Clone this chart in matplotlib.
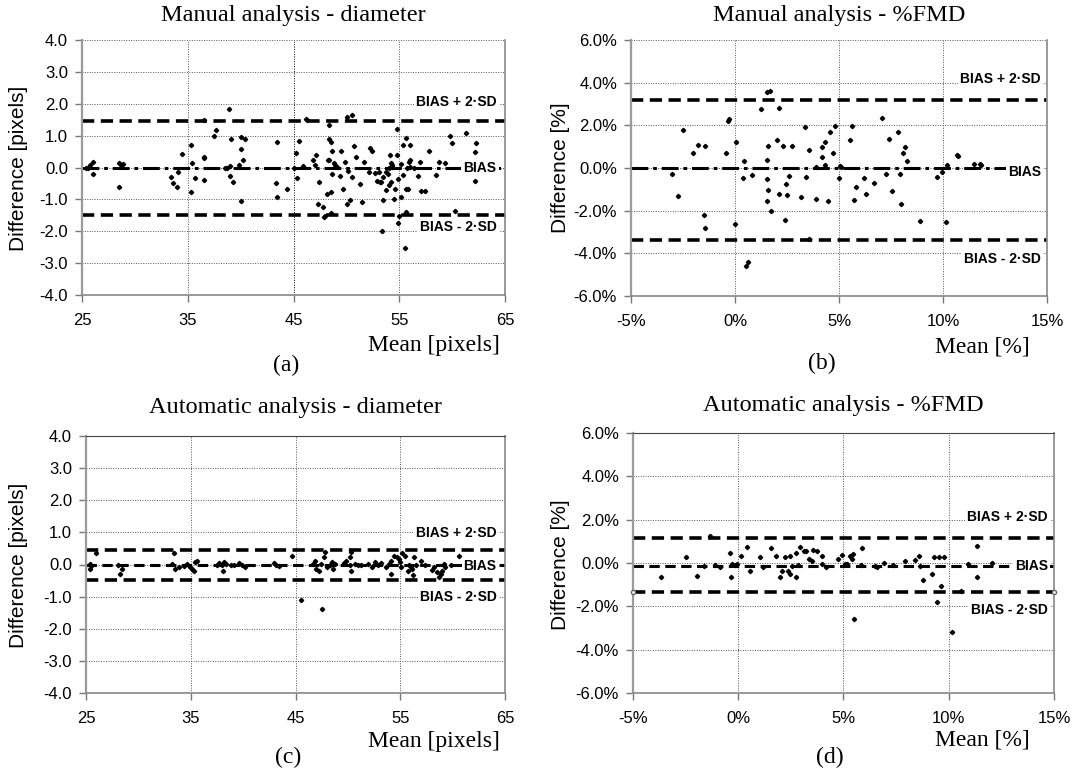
import numpy as np
import matplotlib
matplotlib.use("Agg")
import matplotlib.pyplot as plt
from matplotlib.ticker import FormatStrFormatter, MultipleLocator

plt.rcParams['axes.unicode_minus'] = False
plt.rcParams['font.family'] = ['Liberation Sans', 'DejaVu Sans']

# ---- data ----
# (a) manual analysis - diameter
a_mean = [25.4, 25.8, 26.0, 26.0, 25.6, 28.5, 28.7, 28.5, 28.9, 33.4,
          33.6, 34.0, 34.1, 34.5, 35.3, 35.4, 35.3, 35.7, 36.5, 36.5,
          36.5, 36.5, 37.5, 37.7, 38.9, 39.1, 39.0, 38.7, 38.5, 39.0,
          39.3, 40.0, 40.4, 40.0, 40.2, 40.0, 39.8, 43.4, 43.3, 43.4,
          44.4, 45.2, 45.3, 45.5, 45.0, 46.2, 46.3, 45.9, 46.8, 47.1,
          47.0, 47.4, 47.3, 47.8, 47.9, 48.0, 48.4, 48.4, 48.5, 48.3,
          48.4, 48.6, 48.6, 48.2, 48.5, 48.5, 48.8, 48.9, 49.1, 49.4,
          49.5, 49.7, 49.9, 50.1, 50.1, 50.5, 50.2, 50.3, 50.5, 50.7,
          50.9, 51.3, 51.5, 51.7, 52.2, 52.4, 52.1, 52.7, 52.9, 53.2,
          53.3, 53.1, 53.4, 53.5, 53.7, 53.5, 53.7, 54.0, 53.9, 54.0,
          54.2, 54.1, 54.2, 54.3, 54.3, 54.5, 54.6, 54.8, 54.8, 54.9,
          54.9, 55.0, 55.2, 55.2, 55.4, 55.4, 55.5, 55.6, 55.6, 55.6,
          55.7, 55.9, 55.8, 56.0, 56.0, 56.0, 56.4, 56.8, 57.0, 57.1,
          57.4, 57.8, 58.5, 58.8, 59.3, 59.8, 60.0, 60.3, 61.3, 62.3,
          62.2, 62.2]
a_diff = [-0.03, 0.07, 0.18, -0.21, 0.00, 0.13, 0.07, -0.62, 0.10, -0.29,
          -0.50, -0.61, -0.14, 0.41, 0.71, 0.15, -0.77, -0.32, 0.34, 0.29,
          -0.38, 1.49, 0.99, 1.18, 1.85, 0.88, 0.04, 0.00, -0.03, -0.26,
          -0.45, 0.95, 0.88, 0.57, 0.25, -1.05, 0.08, 0.79, -0.50, -0.93,
          -0.67, 0.47, -0.32, 0.84, 0.00, 1.52, 1.50, 0.04, 0.25, 0.39,
          0.07, -0.45, -1.16, -1.24, -1.54, -1.53, 1.34, 0.89, 0.81, 0.23,
          0.25, 0.53, -0.21, -0.82, -0.77, -1.43, 0.13, 0.07, 0.02, -0.27,
          0.52, -0.66, 0.18, -1.16, 1.58, 1.64, -0.12, -1.01, -0.29, 0.68,
          0.34, -0.53, -1.08, 0.18, 0.60, 0.53, -0.14, -0.17, -0.42, -0.45,
          -0.45, -0.14, -1.98, -1.03, -0.72, -0.29, -0.14, -0.03, -0.21, -0.54,
          -0.45, 0.39, 0.15, 0.07, 0.02, -0.98, -0.69, 1.21, 0.39, -0.35,
          -1.75, -1.51, -0.93, 0.11, 0.71, -0.24, -2.54, 0.94, -0.69, -1.40,
          0.00, 0.18, -0.69, 0.71, 0.02, 0.23, 0.00, -0.27, 0.18, -0.75,
          -0.75, 0.53, -0.22, 0.18, 0.15, 0.99, 0.76, -1.35, 1.09, 0.78,
          0.49, -0.42]

# (b) manual analysis - %FMD (values in %)
b_mean = [-3.03, -2.76, -2.50, -2.02, -1.78, -1.44, -1.51, -1.44, -0.45, -0.34,
          -0.27, 0.00, 0.06, 0.38, 0.45, 0.51, 0.63, 0.83, 1.23, 1.54,
          1.54, 1.59, 1.55, 1.61, 1.54, 1.70, 1.75, 2.00, 2.10, 2.13,
          2.31, 2.39, 2.45, 2.50, 2.61, 2.76, 3.19, 3.37, 3.40, 3.56,
          3.56, 3.91, 3.91, 4.17, 4.17, 4.33, 4.33, 4.47, 4.58, 4.70,
          4.81, 4.98, 5.03, 5.10, 5.51, 5.63, 5.74, 5.82, 6.22, 6.28,
          6.70, 7.07, 7.28, 7.39, 7.56, 7.82, 7.92, 8.00, 8.06, 8.19,
          8.27, 8.91, 9.71, 9.95, 10.16, 10.19, 10.67, 10.72, 11.47, 11.79,
          11.83]
b_diff = [-0.27, -1.32, 1.78, 0.68, 1.07, 1.04, -2.19, -2.82, 0.69, 2.19,
          2.30, -2.61, 1.20, -0.49, 0.33, -4.60, -4.39, -0.33, 2.77, 0.38,
          -0.50, -1.01, -1.56, 1.04, 3.54, 3.61, -2.03, 1.32, 2.82, -1.24,
          1.04, -2.46, -0.74, -1.28, -0.38, 1.01, -1.34, 1.91, -0.41, 0.85,
          -3.32, -1.45, 0.05, 0.99, 0.52, 1.20, 0.14, -1.56, 1.67, 0.71,
          1.95, -0.46, 0.09, 0.05, 1.31, 1.98, -1.48, -0.87, -0.49, -1.21,
          -0.69, 2.35, -0.27, 1.35, -1.06, 1.70, -0.30, -1.67, 0.68, 0.99,
          0.33, -2.50, -0.41, -0.19, -2.54, 0.14, 0.61, 0.57, 0.20, 0.17,
          0.13]

# (c) automatic analysis - diameter
c_mean = [25.4, 25.4, 26.0, 25.5, 28.1, 28.2, 28.4, 33.2, 33.4, 33.5,
          33.9, 34.4, 34.6, 34.9, 35.1, 35.4, 35.6, 35.3, 37.5, 37.7,
          38.0, 38.1, 38.2, 38.4, 38.8, 39.1, 39.6, 39.9, 40.2, 42.9,
          43.1, 43.4, 44.7, 45.5, 47.5, 46.7, 46.9, 47.0, 47.2, 47.4,
          47.7, 47.8, 48.0, 48.3, 48.5, 48.6, 48.8, 49.6, 49.8, 50.2,
          50.2, 50.3, 50.3, 50.7, 51.0, 51.3, 51.9, 52.3, 52.6, 52.9,
          53.2, 53.6, 53.9, 54.1, 54.1, 54.4, 54.7, 54.9, 55.0, 55.1,
          55.2, 55.5, 55.7, 55.8, 56.0, 56.1, 56.2, 56.3, 56.5, 57.0,
          57.4, 58.0, 58.2, 58.5, 58.7, 58.9, 59.0, 59.2, 59.3, 59.8,
          60.6]
c_diff = [0.02, -0.13, 0.36, -0.06, -0.03, -0.29, -0.13, 0.02, 0.36, -0.13,
          -0.08, -0.05, 0.02, -0.08, -0.13, 0.07, 0.12, -0.21, 0.00, 0.04,
          -0.03, -0.19, 0.07, 0.02, -0.01, 0.00, 0.04, -0.03, -0.08, 0.04,
          0.00, -0.04, 0.26, -1.10, -1.38, 0.02, 0.12, -0.13, -0.19, 0.02,
          0.23, 0.38, -0.08, 0.00, 0.07, -0.13, 0.02, 0.04, 0.12, -0.03,
          0.23, 0.38, -0.19, 0.02, 0.00, -0.03, 0.02, -0.08, 0.07, 0.00,
          0.04, -0.08, 0.02, 0.12, -0.31, 0.28, 0.23, 0.18, 0.07, -0.08,
          0.35, 0.28, -0.19, 0.00, -0.08, -0.13, -0.34, 0.23, 0.00, 0.12,
          -0.03, -0.17, -0.08, -0.24, -0.39, -0.29, -0.21, 0.02, -0.08, -0.03,
          0.28]

# (d) automatic analysis - %FMD (values in %)
d_mean = [-3.66, -2.47, -1.96, -1.65, -1.33, -1.09, -0.85, -0.41, -0.35, -0.30,
          -0.14, -0.06, 0.13, 0.41, 0.57, 1.04, 1.17, 1.57, 1.80, 1.99,
          2.07, 2.23, 2.34, 2.44, 2.44, 2.55, 2.74, 2.75, 2.82, 2.91,
          3.10, 3.23, 3.34, 3.50, 3.54, 3.73, 4.00, 3.97, 4.18, 4.76,
          4.92, 5.08, 5.19, 5.32, 5.40, 5.47, 5.52, 5.87, 5.82, 6.50,
          6.61, 6.93, 7.37, 7.93, 8.40, 8.61, 8.64, 8.80, 9.19, 9.32,
          9.43, 9.54, 9.62, 9.78, 10.14, 10.57, 10.93, 11.36, 11.36, 12.04]
d_diff = [-0.66, 0.29, -0.58, -0.15, 1.23, -0.08, -0.20, 0.45, -0.63, -0.05,
          -0.08, -0.05, 0.34, 0.72, -0.35, 0.26, -0.20, 0.69, 0.34, -0.66,
          -0.35, 0.26, -0.38, 0.34, -0.51, -0.12, 0.45, -0.66, -0.08, 0.72,
          0.54, 0.57, 0.18, 0.08, 0.60, 0.57, 0.34, -0.05, -0.20, 0.18,
          0.38, -0.05, -0.05, 0.34, 0.18, 0.42, -2.58, 0.68, -0.09, -0.15,
          -0.20, -0.02, -0.09, 0.11, 0.14, 0.34, -0.15, -0.78, -0.51, 0.29,
          -1.78, 0.29, -1.05, 0.29, -3.20, -1.31, -0.05, 0.77, -0.66, -0.02]

# bias, bias + 2SD, bias - 2SD for each panel
a_limits = [-0.03, 1.45, -1.50]
b_limits = [0.00, 3.17, -3.37]
c_limits = [-0.03, 0.45, -0.48]
d_limits = [-0.15, 1.17, -1.32]

pix_ticks = [25, 35, 45, 55, 65]
pct_ticks = [-5, 0, 5, 10, 15]

W, H = 1075, 772


def px(x, y):
    return x / W, 1 - y / H


fig = plt.figure(figsize=(W / 100, H / 100), dpi=100)
ax_a = fig.add_axes([82 / W, 1 - 295 / H, 423 / W, 255 / H])
ax_b = fig.add_axes([631 / W, 1 - 296 / H, 416 / W, 256 / H])
ax_c = fig.add_axes([86 / W, 1 - 693 / H, 419 / W, 257 / H])
ax_d = fig.add_axes([633 / W, 1 - 693 / H, 421 / W, 260 / H])


def style(ax, pct, top_spine):
    ax.grid(True, color='#555555', linestyle=(0, (1, 1.5)), linewidth=0.7)
    ax.set_axisbelow(True)
    for s in ['left', 'bottom', 'right']:
        ax.spines[s].set_color('#888888')
        ax.spines[s].set_linewidth(1.2)
    ax.spines['left'].set_color('#9a9a9a')
    ax.spines['left'].set_linewidth(1.6)
    ax.spines['top'].set_visible(top_spine)
    ax.spines['top'].set_color('#444444')
    ax.tick_params(axis='both', direction='out', length=5, width=1,
                   color='#777777', labelsize=12)
    ax.tick_params(axis='x', pad=8)
    ax.tick_params(axis='y', pad=5)
    if pct:
        ax.set_xlim(-5, 15)
        ax.set_ylim(-6, 6)
        ax.set_xticks(pct_ticks)
        ax.yaxis.set_major_locator(MultipleLocator(2))
        ax.xaxis.set_major_formatter(FormatStrFormatter('%d%%'))
        ax.yaxis.set_major_formatter(FormatStrFormatter('%.1f%%'))
    else:
        ax.set_xlim(25, 65)
        ax.set_ylim(-4, 4)
        ax.set_xticks(pix_ticks)
        ax.yaxis.set_major_locator(MultipleLocator(1))
        ax.yaxis.set_major_formatter(FormatStrFormatter('%.1f'))


def bland_altman(ax, mean, diff, limits, bias_style, label_x, label_y):
    bias, up, lo = limits
    ax.axhline(up, color='black', linewidth=2.6, linestyle=(0, (3.4, 1.8)), zorder=2)
    ax.axhline(lo, color='black', linewidth=2.6, linestyle=(0, (3.4, 1.8)), zorder=2)
    ax.axhline(bias, color='black', linewidth=2.2, linestyle=bias_style, zorder=2)
    ax.plot(mean, diff, linestyle='none', marker='D', markersize=2.2,
            color='black', zorder=3)
    box = dict(facecolor='white', edgecolor='none', pad=1.5)
    for text, yy in zip(['BIAS + 2·SD', 'BIAS', 'BIAS - 2·SD'], label_y):
        ax.text(label_x, yy, text, ha='right', va='center', fontsize=10,
                fontweight='bold', bbox=box, zorder=4)


style(ax_a, False, False)
style(ax_b, True, False)
style(ax_c, False, True)
style(ax_d, True, True)
# the 45 gridline in (a) is drawn darker in the original
ax_a.get_xgridlines()[2].set_color('black')

dashdot = (0, (5.5, 1.6, 1.2, 1.6))
dashed = (0, (3.4, 1.8))
bland_altman(ax_a, a_mean, a_diff, a_limits, dashdot, 64.2, [2.07, -0.03, -1.87])
bland_altman(ax_b, b_mean, b_diff, b_limits, dashdot, 14.7, [4.16, -0.17, -4.27])
bland_altman(ax_c, c_mean, c_diff, c_limits, dashed, 64.2, [0.98, -0.05, -1.00])
bland_altman(ax_d, d_mean, d_diff, d_limits, dashed, 14.7, [2.14, -0.15, -2.17])
# small open end markers on the lower limit line in (d)
ax_d.plot([-5, 15], [d_limits[2], d_limits[2]], linestyle='none', marker='o',
          markersize=3, markerfacecolor='white', markeredgecolor='#666666',
          clip_on=False, zorder=5)

serif = ['Liberation Serif', 'DejaVu Serif']
titles = ['Manual analysis - diameter', 'Manual analysis - %FMD',
          'Automatic analysis - diameter', 'Automatic analysis - %FMD']
title_pos = [(293, 15), (839, 15), (295, 408), (843, 406)]
for t, (x, y) in zip(titles, title_pos):
    fig.text(*px(x, y), t, ha='center', va='center', fontsize=17.5, family=serif)

ylabels = ['Difference [pixels]', 'Difference [%]',
           'Difference [pixels]', 'Difference [%]']
ylabel_pos = [(19, 168), (560, 168), (19, 565), (560, 565)]
for t, (x, y) in zip(ylabels, ylabel_pos):
    fig.text(*px(x, y), t, ha='center', va='center', rotation=90, fontsize=15)

xlabels = ['Mean [pixels]', 'Mean [%]', 'Mean [pixels]', 'Mean [%]']
xlabel_pos = [(500, 345), (1030, 347), (500, 741), (1030, 740)]
for t, (x, y) in zip(xlabels, xlabel_pos):
    fig.text(*px(x, y), t, ha='right', va='center', fontsize=17, family=serif)

sub = ['(a)', '(b)', '(c)', '(d)']
sub_pos = [(286, 365), (822, 363), (288, 757), (830, 757)]
for t, (x, y) in zip(sub, sub_pos):
    fig.text(*px(x, y), t, ha='center', va='center', fontsize=17, family=serif)

fig.savefig('out.png', dpi=100, facecolor='white')
